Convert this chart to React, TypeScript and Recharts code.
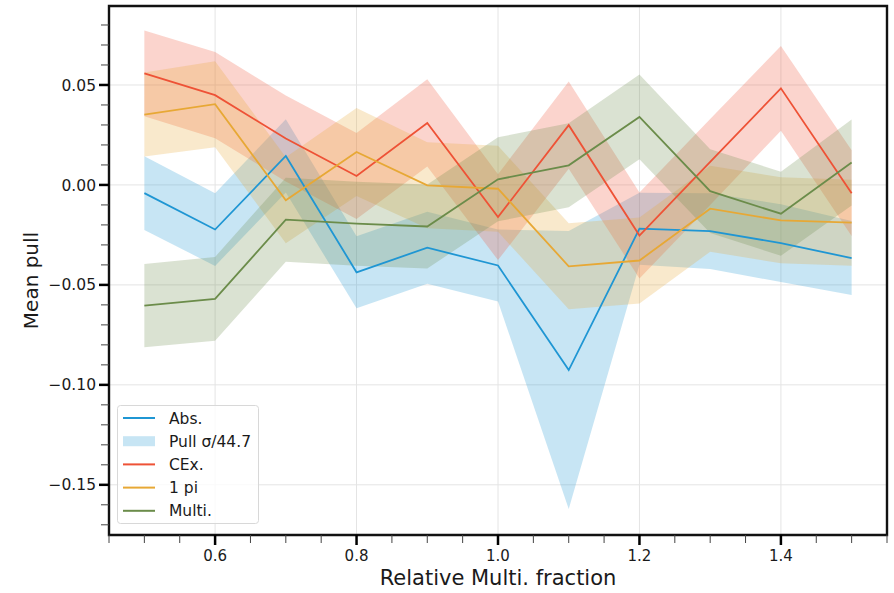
import React from "react";
import {
  Area,
  CartesianGrid,
  ComposedChart,
  Label,
  Legend,
  Line,
  ReferenceArea,
  XAxis,
  YAxis,
} from "recharts";

const fractions = [0.5, 0.6, 0.7, 0.8, 0.9, 1.0, 1.1, 1.2, 1.3, 1.4, 1.5];

const absPull = [-0.0041, -0.0223, 0.0145, -0.0437, -0.0314, -0.0403, -0.0926, -0.0219, -0.0231, -0.0291, -0.0366];
const absErr = [0.0184, 0.0182, 0.0183, 0.018, 0.018, 0.018, 0.0695, 0.018, 0.019, 0.0195, 0.0185];

const cexPull = [0.0558, 0.0449, 0.0232, 0.0045, 0.031, -0.0161, 0.0299, -0.0253, 0.0115, 0.0483, -0.0041];
const cexErr = [0.0215, 0.0216, 0.0215, 0.0215, 0.0218, 0.0215, 0.0218, 0.0215, 0.0215, 0.0212, 0.0215];

const onePiPull = [0.0352, 0.0404, -0.0077, 0.0165, -0.0002, -0.0019, -0.0407, -0.0378, -0.0119, -0.0177, -0.0189];
const onePiErr = [0.021, 0.0215, 0.0215, 0.022, 0.0215, 0.0215, 0.0215, 0.0215, 0.0215, 0.0215, 0.0215];

const multiPull = [-0.0604, -0.057, -0.0174, -0.0194, -0.0208, 0.0028, 0.0098, 0.034, -0.0031, -0.0144, 0.0112];
const multiErr = [0.0208, 0.021, 0.021, 0.021, 0.021, 0.021, 0.021, 0.0212, 0.021, 0.021, 0.0215];

const xMajorTicks = [0.6, 0.8, 1.0, 1.2, 1.4];
const xMajorLabels = ["0.6", "0.8", "1.0", "1.2", "1.4"];
const xMinorTicks = [0.45, 0.5, 0.55, 0.65, 0.7, 0.75, 0.85, 0.9, 0.95, 1.05, 1.1, 1.15, 1.25, 1.3, 1.35, 1.45, 1.5, 1.55];

const yMajorTicks = [-0.15, -0.1, -0.05, 0, 0.05];
const yMajorLabels = ["\u22120.15", "\u22120.10", "\u22120.05", "0.00", "0.05"];
const yMinorTicks = [-0.17, -0.16, -0.14, -0.13, -0.12, -0.11, -0.09, -0.08, -0.07, -0.06, -0.04, -0.03, -0.02, -0.01, 0.01, 0.02, 0.03, 0.04, 0.06, 0.07, 0.08];

const legendNames = ["Abs.", "Pull \u03c3/44.7", "CEx.", "1 pi", "Multi."];

const COLORS = {
  abs: "#1f96d3",
  cex: "#ee5236",
  onePi: "#e7a835",
  multi: "#6b8c4a",
};

const FONT = "'DejaVu Sans', sans-serif";

const data = fractions.map((x, i) => ({
  x,
  abs: absPull[i],
  absBand: [absPull[i] - absErr[i], absPull[i] + absErr[i]],
  cex: cexPull[i],
  cexBand: [cexPull[i] - cexErr[i], cexPull[i] + cexErr[i]],
  onePi: onePiPull[i],
  onePiBand: [onePiPull[i] - onePiErr[i], onePiPull[i] + onePiErr[i]],
  multi: multiPull[i],
  multiBand: [multiPull[i] - multiErr[i], multiPull[i] + multiErr[i]],
}));

const findIdx = (arr: number[], v: number) => arr.findIndex((t) => Math.abs(t - v) < 1e-6);

const XTick = (props: any) => {
  const { x, y, payload } = props;
  const idx = findIdx(xMajorTicks, payload.value);
  if (idx < 0) {
    return <line x1={x} x2={x} y1={y} y2={y + 8} stroke="#444" strokeWidth={1} />;
  }
  return (
    <g>
      <line x1={x} x2={x} y1={y} y2={y + 10} stroke="#000" strokeWidth={2.5} />
      <text x={x} y={y + 26} textAnchor="middle" fontSize={15} fontFamily={FONT} fill="#1a1a1a">
        {xMajorLabels[idx]}
      </text>
    </g>
  );
};

const YTick = (props: any) => {
  const { x, y, payload } = props;
  const idx = findIdx(yMajorTicks, payload.value);
  if (idx < 0) {
    return <line x1={x - 8} x2={x} y1={y} y2={y} stroke="#444" strokeWidth={1} />;
  }
  return (
    <g>
      <line x1={x - 10} x2={x} y1={y} y2={y} stroke="#000" strokeWidth={2.5} />
      <text x={x - 13} y={y} dy="0.36em" textAnchor="end" fontSize={15.5} fontFamily={FONT} fill="#1a1a1a">
        {yMajorLabels[idx]}
      </text>
    </g>
  );
};

const legendColors = [COLORS.abs, null, COLORS.cex, COLORS.onePi, COLORS.multi];

const LegendBox = () => (
  <svg width={142} height={119} style={{ display: "block" }}>
    <rect x={0.5} y={0.5} width={141} height={118} rx={3} fill="rgba(255,255,255,0.8)" stroke="#d8d8d8" />
    {legendNames.map((name, i) => {
      const cy = 13 + i * 23.2;
      const c = legendColors[i];
      return (
        <g key={name}>
          {c ? (
            <line x1={6} x2={38} y1={cy} y2={cy} stroke={c} strokeWidth={2} />
          ) : (
            <rect x={6} y={cy - 5} width={32} height={10} fill={COLORS.abs} fillOpacity={0.25} />
          )}
          <text x={52} y={cy} dy="0.36em" fontSize={15.5} fontFamily={FONT} fill="#1a1a1a">
            {name}
          </text>
        </g>
      );
    })}
  </svg>
);

const X_DOMAIN = [0.45, 1.55];
const Y_DOMAIN = [-0.1751, 0.0895];

export default function App() {
  return (
    <div style={{ position: "absolute", left: 0, top: 0, background: "#fff" }}>
      <ComposedChart width={894} height={593} data={data} margin={{ top: 6, right: 7, bottom: 0, left: 0 }}>
        <CartesianGrid
          stroke="#e4e4e4"
          strokeWidth={1}
          verticalValues={xMajorTicks}
          horizontalValues={yMajorTicks}
        />
        <XAxis
          dataKey="x"
          type="number"
          domain={X_DOMAIN}
          allowDataOverflow
          ticks={[...xMajorTicks, ...xMinorTicks].sort((a, b) => a - b)}
          interval={0}
          tickLine={false}
          tickSize={0}
          tickMargin={0}
          axisLine={false}
          tick={<XTick />}
          height={58}
        >
          <Label
            value="Relative Multi. fraction"
            position="insideBottom"
            offset={8}
            style={{ fontSize: 21, fontFamily: FONT, fill: "#1a1a1a" }}
          />
        </XAxis>
        <YAxis
          type="number"
          domain={Y_DOMAIN}
          allowDataOverflow
          ticks={[...yMajorTicks, ...yMinorTicks].sort((a, b) => a - b)}
          interval={0}
          tickLine={false}
          tickSize={0}
          tickMargin={0}
          axisLine={false}
          tick={<YTick />}
          width={109}
        >
          <Label
            content={(p: any) => {
              const vb = p.viewBox;
              const lx = vb.x + 38;
              const ly = vb.y + vb.height / 2 + 10;
              return (
                <text
                  x={lx}
                  y={ly}
                  transform={`rotate(-90 ${lx} ${ly})`}
                  textAnchor="middle"
                  fontSize={20}
                  fontFamily={FONT}
                  fill="#1a1a1a"
                >
                  Mean pull
                </text>
              );
            }}
          />
        </YAxis>
        <Area dataKey="absBand" type="linear" stroke="none" fill={COLORS.abs} fillOpacity={0.25} isAnimationActive={false} legendType="none" />
        <Area dataKey="cexBand" type="linear" stroke="none" fill={COLORS.cex} fillOpacity={0.25} isAnimationActive={false} legendType="none" />
        <Area dataKey="onePiBand" type="linear" stroke="none" fill={COLORS.onePi} fillOpacity={0.25} isAnimationActive={false} legendType="none" />
        <Area dataKey="multiBand" type="linear" stroke="none" fill={COLORS.multi} fillOpacity={0.25} isAnimationActive={false} legendType="none" />
        <Line dataKey="abs" type="linear" stroke={COLORS.abs} strokeWidth={1.8} dot={false} isAnimationActive={false} />
        <Line dataKey="cex" type="linear" stroke={COLORS.cex} strokeWidth={1.8} dot={false} isAnimationActive={false} />
        <Line dataKey="onePi" type="linear" stroke={COLORS.onePi} strokeWidth={1.8} dot={false} isAnimationActive={false} />
        <Line dataKey="multi" type="linear" stroke={COLORS.multi} strokeWidth={1.8} dot={false} isAnimationActive={false} />
        <ReferenceArea
          x1={X_DOMAIN[0]}
          x2={X_DOMAIN[1]}
          y1={Y_DOMAIN[0]}
          y2={Y_DOMAIN[1]}
          fill="none"
          stroke="#111"
          strokeWidth={2.4}
          ifOverflow="visible"
        />
        <Legend
          layout="vertical"
          align="center"
          verticalAlign="middle"
          content={() => <LegendBox />}
          wrapperStyle={{ left: 117, top: 405, width: 142, height: 119 }}
        />
      </ComposedChart>
    </div>
  );
}
